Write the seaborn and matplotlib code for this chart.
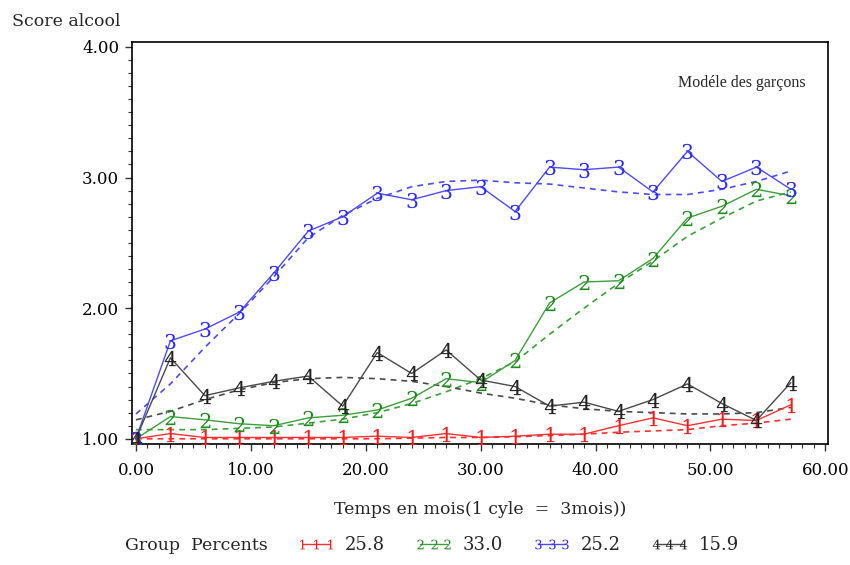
import matplotlib
matplotlib.use("Agg")
import matplotlib.pyplot as plt
from matplotlib.lines import Line2D
from matplotlib.ticker import MultipleLocator, FixedLocator
import seaborn as sns
import numpy as np

# ---------------- data ----------------
months = [0, 3, 6, 9, 12, 15, 18, 21, 24, 27, 30, 33, 36, 39, 42, 45, 48, 51, 54, 57]

obs_g1 = [1.00, 1.04, 1.01, 1.01, 1.01, 1.01, 1.01, 1.02, 1.01, 1.04,
          1.01, 1.02, 1.035, 1.035, 1.10, 1.16, 1.10, 1.15, 1.14, 1.26]
obs_g2 = [1.00, 1.17, 1.145, 1.115, 1.10, 1.16, 1.18, 1.22, 1.31, 1.46,
          1.43, 1.60, 2.04, 2.20, 2.21, 2.38, 2.69, 2.78, 2.91, 2.86]
obs_g3 = [1.00, 1.75, 1.84, 1.97, 2.27, 2.59, 2.70, 2.88, 2.83, 2.90,
          2.93, 2.74, 3.08, 3.06, 3.08, 2.89, 3.20, 2.97, 3.08, 2.91]
obs_g4 = [1.00, 1.62, 1.33, 1.39, 1.44, 1.48, 1.25, 1.66, 1.50, 1.68,
          1.45, 1.40, 1.25, 1.28, 1.21, 1.30, 1.42, 1.27, 1.14, 1.43]

fit_g1 = [1.00, 1.00, 1.00, 1.00, 1.00, 1.00, 1.00, 1.00, 1.005, 1.01,
          1.01, 1.015, 1.025, 1.035, 1.05, 1.06, 1.07, 1.10, 1.12, 1.15]
fit_g2 = [1.07, 1.07, 1.07, 1.08, 1.09, 1.12, 1.15, 1.20, 1.27, 1.36,
          1.46, 1.59, 1.80, 2.00, 2.19, 2.36, 2.55, 2.69, 2.82, 2.89]
fit_g3 = [1.19, 1.42, 1.70, 1.96, 2.24, 2.54, 2.71, 2.84, 2.93, 2.97,
          2.98, 2.96, 2.95, 2.92, 2.89, 2.87, 2.87, 2.91, 2.97, 3.05]
fit_g4 = [1.145, 1.21, 1.30, 1.375, 1.43, 1.46, 1.47, 1.46, 1.44, 1.40,
          1.35, 1.31, 1.26, 1.23, 1.21, 1.20, 1.19, 1.19, 1.20, 1.24]

group_ids = ["1", "2", "3", "4"]
group_percents = ["25.8", "33.0", "25.2", "15.9"]

y_ticks = [1.0, 2.0, 3.0, 4.0]
y_tick_labels = ["1.00", "2.00", "3.00", "4.00"]
x_ticks = [0, 10, 20, 30, 40, 50, 60]
x_tick_labels = ["0.00", "10.00", "20.00", "30.00", "40.00", "50.00", "60.00"]

# ---------------- style ----------------
sns.set_style("white")
plt.rcParams["font.family"] = ["DejaVu Serif", "DejaVu Sans"]
plt.rcParams["mathtext.fontset"] = "dejavuserif"

colors = ["#ff3030", "#3ca03c", "#4c4cff", "#4a4a4a"]
marker_colors = ["#ff1a1a", "#1e8c1e", "#2a2aff", "#222222"]

fig = plt.figure(figsize=(8.5, 5.65), dpi=100)
ax = fig.add_axes([131.7 / 850, 1 - 444 / 565, (828.3 - 131.7) / 850, (444 - 41.7) / 565])

obs = [obs_g1, obs_g2, obs_g3, obs_g4]
fits = [fit_g1, fit_g2, fit_g3, fit_g4]

for gid, o, f, c, mc in zip(group_ids, obs, fits, colors, marker_colors):
    sns.lineplot(x=months, y=f, ax=ax, color=c, linewidth=1.2,
                 linestyle=(0, (3.5, 3)), zorder=2)
    sns.lineplot(x=months, y=o, ax=ax, color=c, linewidth=1.0,
                 marker=f"${gid}$", markersize=11, markeredgewidth=0,
                 markerfacecolor=mc, markeredgecolor=mc, zorder=3)

ax.set_xlim(-0.37, 60.26)
ax.set_ylim(0.96, 4.04)

ax.xaxis.set_major_locator(FixedLocator(x_ticks))
ax.set_xticklabels(x_tick_labels)
ax.xaxis.set_minor_locator(MultipleLocator(1))
ax.yaxis.set_major_locator(FixedLocator(y_ticks))
ax.set_yticklabels(y_tick_labels)
ax.yaxis.set_minor_locator(MultipleLocator(0.1))

ax.tick_params(axis="both", which="major", direction="out", length=5, width=1,
               color="#333333", labelsize=12, labelcolor="black", bottom=True, left=True)
ax.tick_params(axis="x", which="major", pad=8)
ax.tick_params(axis="y", which="major", pad=4)
ax.tick_params(axis="both", which="minor", direction="out", length=3, width=0.8,
               color="#333333", bottom=True, left=True)

for s in ax.spines.values():
    s.set_color("black")
    s.set_linewidth(1.2)
    s.set_visible(True)

ax.set_xlabel("")
ax.set_ylabel("")
ax.grid(False)

fig.text(480 / 850, 1 - 509 / 565, "Temps en mois(1 cyle  =  3mois))",
         ha="center", va="center", fontsize=12.5)
fig.text(12 / 850, 1 - 22 / 565, "Score alcool", ha="left", va="center", fontsize=12.5)
ax.text(806 / 850, 1 - 83 / 565, "Modéle des garçons", transform=fig.transFigure,
        ha="right", va="center", fontsize=11.5, family="Liberation Serif")

fig.text(125 / 850, 1 - 545 / 565, "Group  Percents", ha="left", va="center", fontsize=12.5)

handles = []
for gid, c, mc in zip(group_ids, colors, marker_colors):
    handles.append(Line2D([], [], color=c, linewidth=1.0, marker=f"${gid}$",
                          markersize=7, markeredgewidth=0,
                          markerfacecolor=mc, markeredgecolor=mc))
fig.legend(handles, group_percents, loc="center left",
           bbox_to_anchor=(297 / 850, 1 - 545 / 565), ncol=4, frameon=False,
           numpoints=3, handlelength=2.1, handletextpad=0.55, columnspacing=1.65,
           fontsize=13, borderpad=0, borderaxespad=0)

fig.savefig("out.png", dpi=100)
